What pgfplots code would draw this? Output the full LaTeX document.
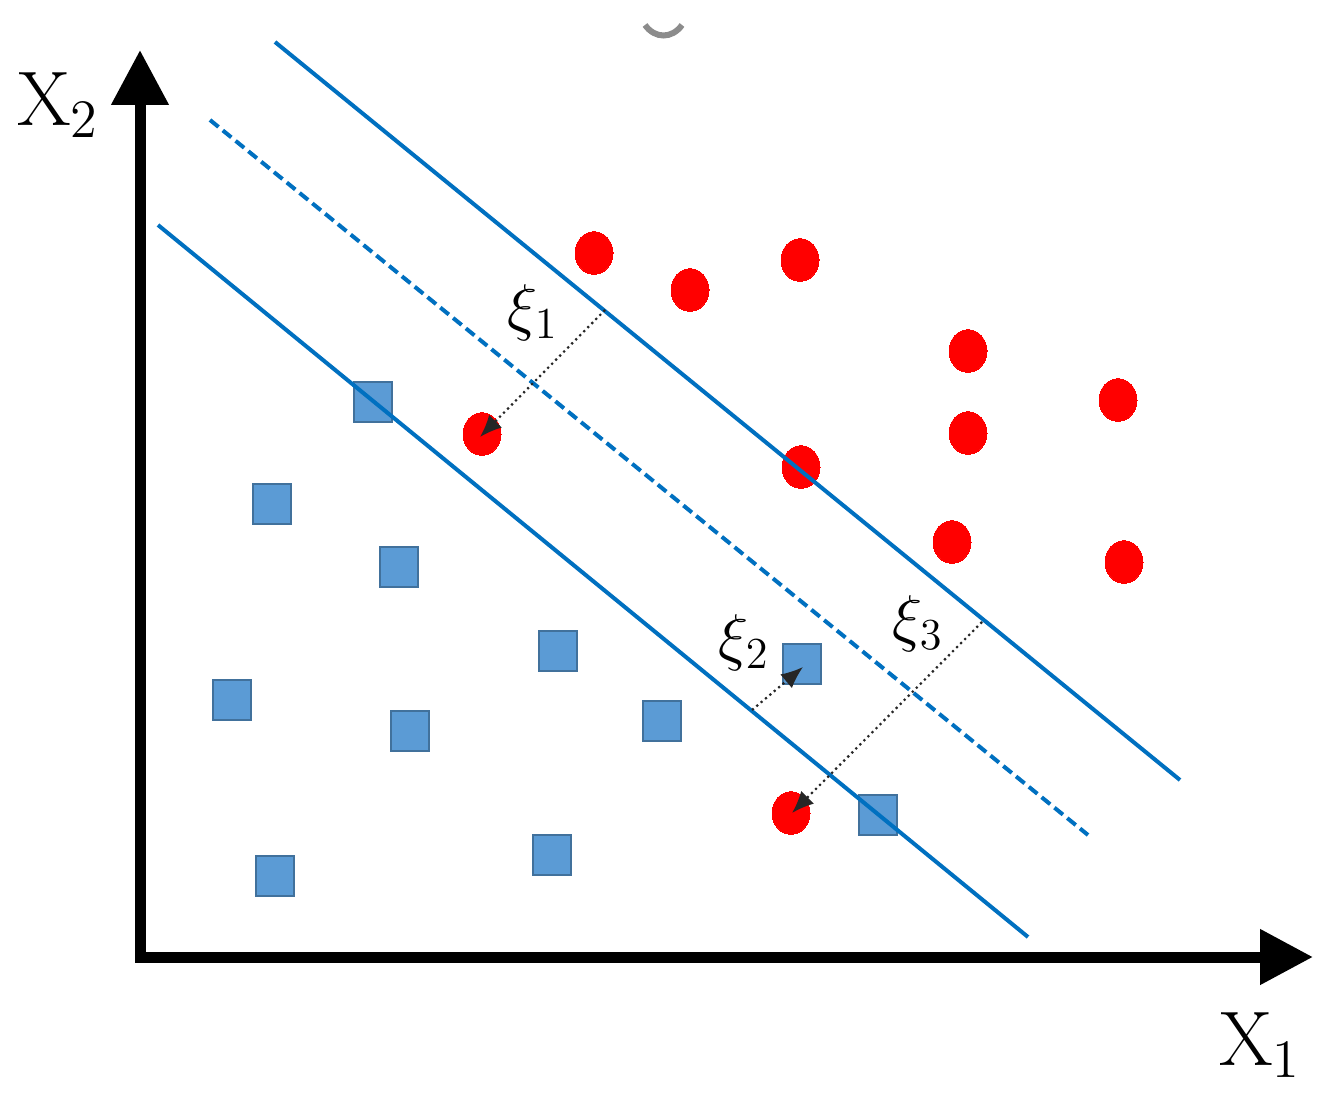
\RequirePackage{fix-cm}
\documentclass[border=0pt]{standalone}
\usepackage{pgfplots}
\pgfplotsset{compat=1.18}
\usetikzlibrary{arrows.meta}
\definecolor{svmline}{HTML}{0070C0}
\definecolor{sqfill}{HTML}{5B9BD5}
\definecolor{sqborder}{HTML}{41719C}
\begin{document}
\begin{tikzpicture}
\begin{axis}[hide axis, scale only axis, width=13.34cm, height=11.02cm,
  xmin=0, xmax=1334, ymin=0, ymax=1102, clip=false, clip marker paths=true]
\path (axis cs:0,0) rectangle (axis cs:1334,1102);
% blue squares
\addplot[only marks, mark=square*, mark size=1.9mm,
  mark options={fill=sqfill, draw=sqborder, line width=0.25mm, yscale=1.06}]
  coordinates {(373,700) (272,598) (399,535) (558,451) (232,402) (410,371)
               (662,381) (802,438) (552,247) (275,226) (878,287)};
% red circles
\addplot[only marks, mark=*, mark size=1.9mm,
  mark options={fill=red, draw=red, line width=0pt, yscale=1.12}]
  coordinates {(594,849) (690,812) (800,842) (968,751) (1118,702) (482,668)
               (968,669) (801,635) (952,560) (1124,540) (791,289)};
% margin lines
\addplot[svmline, line width=0.4mm] coordinates {(275,1060) (1180,322)};
\addplot[svmline, line width=0.4mm, dash pattern=on 1.1mm off 0.55mm] coordinates {(210,982) (1088,267)};
\addplot[svmline, line width=0.4mm] coordinates {(158,877) (1028,165)};
% slack arrows
\draw[black!85, line width=0.22mm, densely dotted, -{Latex[length=2.2mm,width=1.8mm]}] (axis cs:605,792) -- (axis cs:480,665);
\draw[black!85, line width=0.22mm, densely dotted, -{Latex[length=2.2mm,width=1.8mm]}] (axis cs:752,392) -- (axis cs:803,435);
\draw[black!85, line width=0.22mm, densely dotted, -{Latex[length=2.2mm,width=1.8mm]}] (axis cs:982,480) -- (axis cs:792,289);
\node[font=\fontsize{18}{21}\selectfont] at (axis cs:533,789) {$\xi_1$};
\node[font=\fontsize{18}{21}\selectfont] at (axis cs:744,459) {$\xi_2$};
\node[font=\fontsize{18}{21}\selectfont] at (axis cs:918,478) {$\xi_3$};
% axes
\draw[black, line width=1.1mm, line join=miter,
  {Triangle[length=5.5mm,width=5.5mm]}-{Triangle[length=5.3mm,width=5.3mm]}]
  (axis cs:140,1052) -- (axis cs:140,145) -- (axis cs:1313,145);
\node[font=\fontsize{22}{26}\selectfont] at (axis cs:58,997) {$\mathrm{X}_2$};
\node[font=\fontsize{22}{26}\selectfont] at (axis cs:1260,57) {$\mathrm{X}_1$};
% small grey arc at top
\draw[black!45, line width=0.6mm] (axis cs:645,1077) .. controls (axis cs:655,1063) and (axis cs:672,1063) .. (axis cs:682,1077);
\end{axis}
\end{tikzpicture}
\end{document}
